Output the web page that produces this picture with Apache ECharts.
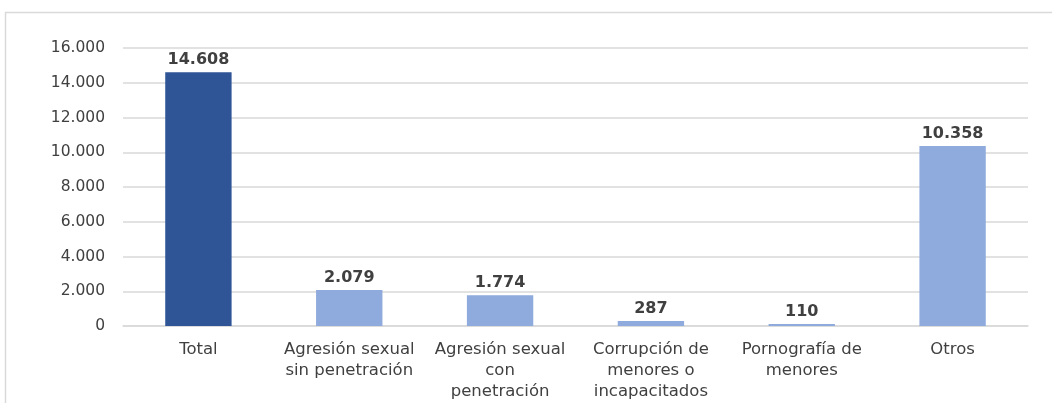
<!DOCTYPE html>
<html><head><meta charset="utf-8">
<script src="https://cdn.jsdelivr.net/npm/echarts@6/dist/echarts.min.js"></script>
<style>html,body{margin:0;padding:0;background:#fff}#c{width:1052px;height:403px}</style>
</head><body><div id="c"></div>
<script>
const categories = ["Total","Agresión sexual\nsin penetración","Agresión sexual\ncon\npenetración","Corrupción de\nmenores o\nincapacitados","Pornografía de\nmenores","Otros"];
const values = [14608, 2079, 1774, 287, 110, 10358];
const barColors = ["#2F5597","#8FAADC","#8FAADC","#8FAADC","#8FAADC","#8FAADC"];
const fmt = v => String(v).replace(/\B(?=(\d{3})+(?!\d))/g, ".");
const FONT = '"DejaVu Sans", sans-serif';
const chart = echarts.init(document.getElementById('c'), null, {renderer:'canvas'});
chart.setOption({
  animation:false,
  graphic:[{type:'rect',shape:{x:5.5,y:12.5,width:1100,height:500},style:{fill:'none',stroke:'#D9D9D9',lineWidth:1.5},silent:true}],
  grid:{left:123,right:24,top:48,bottom:77},
  xAxis:{type:'category',data:categories,
    axisLine:{lineStyle:{color:'#D9D9D9',width:1.5}},axisTick:{show:false},
    axisLabel:{interval:0,color:'#404040',fontFamily:FONT,fontSize:16.5,lineHeight:21,margin:13}},
  yAxis:{type:'value',min:0,max:16000,interval:2000,
    axisLine:{show:false},axisTick:{show:false},
    splitLine:{lineStyle:{color:'#D9D9D9',width:1.5}},
    axisLabel:{color:'#404040',fontFamily:FONT,fontSize:15.5,margin:18,formatter:fmt}},
  series:[{type:'bar',barWidth:'44%',
    data:values.map((v,i)=>({value:v,itemStyle:{color:barColors[i]}})),
    label:{show:true,position:'top',distance:4,color:'#404040',fontWeight:'bold',fontSize:16,fontFamily:FONT,formatter:p=>fmt(p.value)}}]
});
</script></body></html>
